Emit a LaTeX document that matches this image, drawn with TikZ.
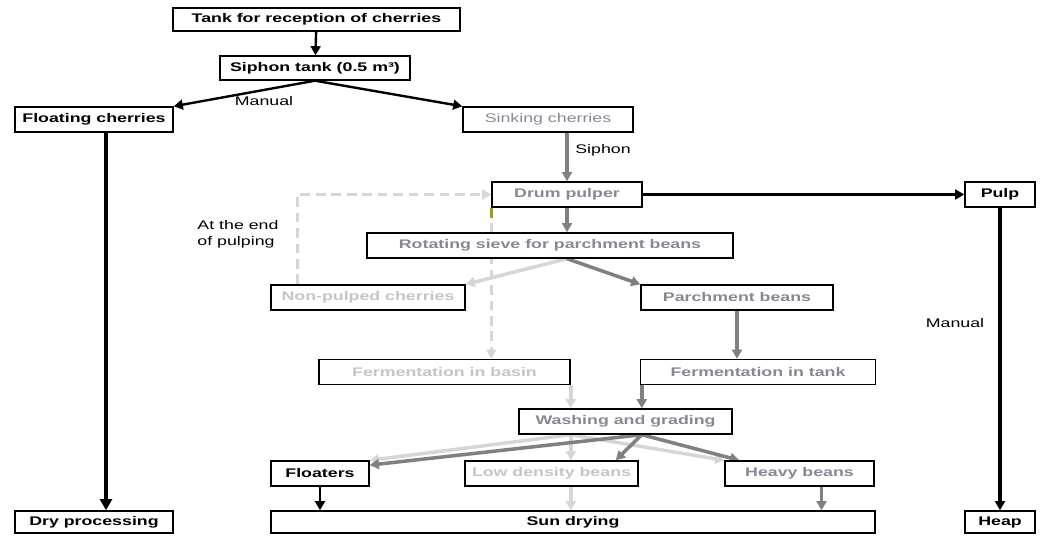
\documentclass[tikz,border=0pt]{standalone}
\usepackage{fontspec}
\setmainfont{Liberation Sans}[FakeStretch=1.42]
\usepackage{tikz}
\usetikzlibrary{arrows.meta,positioning,calc,backgrounds}
\newcommand{\cpfont}{\fontsize{8.9}{11.4}\selectfont}
\definecolor{cpInk}{HTML}{000000}
\definecolor{cpGray}{HTML}{808080}
\definecolor{cpGrayText}{HTML}{868993}
\definecolor{cpLight}{HTML}{D6D6D6}
\definecolor{cpLightText}{HTML}{C4C5CA}
\definecolor{cpOlive}{HTML}{9A9A3A}
\tikzset{
    >={Triangle[length=6.5pt,width=7pt]},
    box/.style={draw=cpInk, line width=1pt, fill=white, inner sep=0pt, minimum height=0.625cm, font=\cpfont\bfseries, text=cpInk},
    graybox/.style={box, text=cpGrayText},
    lightbox/.style={box, text=cpLightText},
    note/.style={font=\cpfont, text=cpInk, align=left},
    arrow/.style={->, line width=1.7pt, draw=cpInk},
    grayarrow/.style={->, line width=2.5pt, draw=cpGray},
    lightarrow/.style={->, line width=2.5pt, draw=cpLight},
    dasharrow/.style={->, line width=2pt, draw=cpLight, dash pattern=on 7pt off 4pt}
}

\begin{document}
\begin{tikzpicture}[x=0.025cm, y=-0.025cm]
\useasboundingbox (0,0) rectangle (1049,536);
\node[box, minimum width=7.175cm, minimum height=0.575cm] (tank) at (316.5,19.5) {Tank for reception of cherries};
\node[box, minimum width=4.75cm, minimum height=0.6cm] (siphon) at (315,68) {Siphon tank (0.5 m³)};
\node[box, minimum width=3.95cm] (floating) at (94,119.5) {Floating cherries};
\node[graybox, font=\cpfont, minimum width=4.25cm] (sinking) at (548,119.5) {Sinking cherries};
\node[graybox, minimum width=3.75cm] (pulper) at (567,194.5) {Drum pulper};
\node[box, minimum width=1.75cm] (pulp) at (1000,194.5) {Pulp};
\node[graybox, minimum width=9.15cm] (sieve) at (550,245.5) {Rotating sieve for parchment beans};
\node[lightbox, minimum width=4.85cm] (npc) at (368,297.5) {Non-pulped cherries};
\node[graybox, minimum width=4.8cm] (parch) at (737,297.5) {Parchment beans};
\node[lightbox, minimum width=6.275cm] (basin) at (444.5,372) {Fermentation in basin};
\node[graybox, minimum width=5.875cm] (ftank) at (758,372) {Fermentation in tank};
\node[graybox, minimum width=5.325cm] (wash) at (625.5,421.5) {Washing and grading};
\node[box, minimum width=2.45cm] (floaters) at (320,473.5) {Floaters};
\node[lightbox, minimum width=4.325cm] (lowd) at (551.5,473.5) {Low density beans};
\node[graybox, minimum width=3.725cm] (heavy) at (799.5,473.5) {Heavy beans};
\node[box, minimum width=15.1cm, minimum height=0.55cm] (sun) at (573,522) {Sun drying};
\node[box, minimum width=3.95cm, minimum height=0.55cm] (dry) at (94,522) {Dry processing};
\node[box, minimum width=1.75cm, minimum height=0.55cm] (heap) at (1000,522) {Heap};

\node[note] (manualleft) at (264,101) {Manual};
\node[note] (siphonlbl) at (603,150) {Siphon};
\node[note] (endlbl) at (238,234) {At the end\\of pulping};
\node[note] (manualright) at (955,323) {Manual};

\coordinate (sievesplit) at (pulper.south |- sieve.south);
\coordinate (ftankout) at ([xshift=0.05cm]ftank.south west);
\coordinate (washlight) at (basin.south east |- wash.south);
\coordinate (washgray) at (ftankout |- wash.south);
\coordinate (heavyout) at ([xshift=0.55cm]heavy.south);

\begin{scope}[on background layer]
\draw[arrow] (tank) -- (siphon);
\draw[arrow] (siphon.south) -- (floating.north east);
\draw[arrow] (siphon.south) -- (sinking.north west);
\draw[arrow, line width=3.2pt, >={Triangle[length=8pt,width=8.5pt]}] ([xshift=0.3cm]floating.south) -- ([xshift=0.3cm]dry.north);
\draw[grayarrow] (pulper.north |- sinking.south) -- (pulper.north);
\draw[arrow] (pulper.east) -- (pulp.west);
\draw[arrow, line width=2.2pt] (pulp.south) -- (heap.north);
\draw[grayarrow] (pulper.south) -- (pulper.south |- sieve.north);
\draw[lightarrow] (sievesplit) -- (npc.north east);
\draw[grayarrow] (sievesplit) -- (parch.north west);
\draw[dasharrow] ([xshift=0.675cm]npc.north west) |- (pulper.west);
\draw[dasharrow] (pulper.south west) -- (pulper.south west |- basin.north);
\draw[cpOlive, line width=2pt, dash pattern=on 7pt off 4pt] (pulper.south west) -- ++(0,15);
\draw[grayarrow] (parch.south) -- (parch.south |- ftank.north);
\draw[lightarrow] (basin.south east) -- (basin.south east |- wash.north);
\draw[grayarrow] (ftankout) -- (ftankout |- wash.north);
\draw[lightarrow] (washlight) -- (floaters.north east);
\draw[lightarrow] (washlight) -- (washlight |- lowd.north);
\draw[lightarrow] (washlight) -- (heavy.north west);
\draw[grayarrow] (washgray) -- ([yshift=-0.12cm]floaters.north east);
\draw[grayarrow] (washgray) -- ([xshift=-0.575cm]lowd.north east);
\draw[grayarrow] (washgray) -- ([xshift=0.375cm]heavy.north west);
\draw[arrow] (floaters.south) -- (floaters.south |- sun.north);
\draw[lightarrow] (washlight |- lowd.south) -- (washlight |- sun.north);
\draw[grayarrow] (heavyout) -- (heavyout |- sun.north);
\end{scope}
\end{tikzpicture}
\end{document}
